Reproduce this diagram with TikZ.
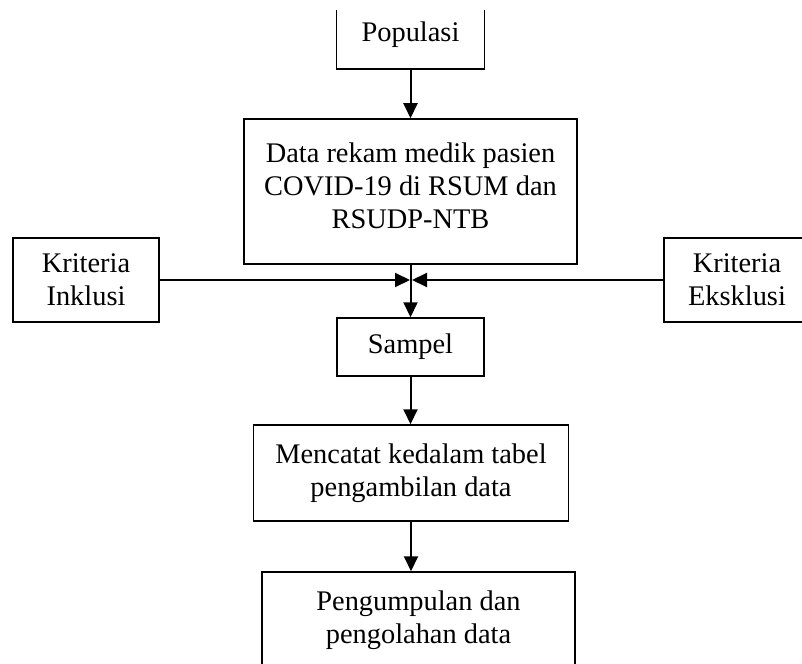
\documentclass[tikz,border=0pt]{standalone}
\usepackage{fontspec}
\setmainfont{Liberation Serif}
\usetikzlibrary{arrows.meta, positioning}

\begin{document}
\begin{tikzpicture}[x=0.5pt, y=-0.5pt]
  % Define style for the boxes and the arrows
  \tikzstyle{box}=[draw, line width=0.75pt, align=center, inner sep=0pt, font=\fontsize{14.2}{16.5}\selectfont]
  \tikzstyle{flow}=[line width=1pt, -{Triangle[length=7.5pt, width=7pt]}]

  \useasboundingbox (0,0) rectangle (802,663);
  \clip (0,11) rectangle (802,663);

  % Main column
  \node[box, minimum width=74pt, minimum height=34pt] (populasi) at (410.5,35) {Populasi};
  \node[box, minimum width=166.5pt, minimum height=72.5pt] (data) at (410.5,191.5)
    {Data rekam medik pasien\\COVID-19 di RSUM dan\\RSUDP-NTB\\[-10.5pt]\mbox{}};
  \node[box, minimum width=73.5pt, minimum height=29pt] (sampel) at (410.5,347) {Sampel};
  \node[box, minimum width=157.5pt, minimum height=48pt] (mencatat) at (411,473)
    {Mencatat kedalam tabel\\pengambilan data};
  \node[box, minimum width=156.5pt, minimum height=48pt] (olah) at (418.5,620)
    {Pengumpulan dan\\pengolahan data};

  % Criteria on both sides
  \node[box, minimum width=73pt, minimum height=42pt] (inklusi) at (86,280) {Kriteria\\Inklusi};
  \node[box, minimum width=73pt, minimum height=42pt] (eksklusi) at (737,280) {Kriteria\\Eksklusi};
  \coordinate (tipL) at (410,280);
  \coordinate (tipR) at (412,280);

  % Arrows
  \draw[flow] (populasi.south) -- (data.north);
  \draw[flow] (data.south) -- (sampel.north);
  \draw[flow] (inklusi.east) -- (tipL);
  \draw[flow] (eksklusi.west) -- (tipR);
  \draw[flow] (sampel.south) -- (mencatat.north -| sampel.south);
  \draw[flow] (mencatat.south) -- (olah.north -| mencatat.south);
\end{tikzpicture}
\end{document}
